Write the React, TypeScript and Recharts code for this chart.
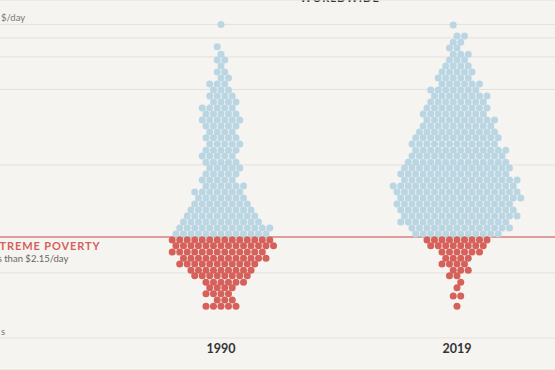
import React from "react";
import {
  CartesianGrid,
  ReferenceLine,
  Scatter,
  ScatterChart,
  XAxis,
  YAxis,
} from "recharts";

// income levels ($/day) of each row of dots, and how many dots sit on that row
const years = ["1990", "2019"];

const blue1990Levels = [
  2.29, 2.6, 2.96, 3.36, 3.82, 4.35, 4.94, 5.61, 6.38, 7.25, 8.24, 9.36, 10.6,
  12.1, 13.7, 15.6, 17.8, 20.2, 22.9, 26.1, 29.6, 33.7, 38.2, 43.5, 49.4, 56.1,
  63.8, 72.5, 82.4, 93.6, 106, 124, 200,
];
const blue1990Counts = [
  13, 13, 11, 10, 9, 8, 7, 7, 6, 5, 5, 5, 5, 5, 5, 5, 5, 4, 5, 6, 5, 5, 4, 4, 3,
  3, 2, 2, 1, 2, 1, 1, 1,
];
const red1990Levels = [
  2.02, 1.78, 1.56, 1.37, 1.21, 1.06, 0.94, 0.82, 0.73, 0.64, 0.56, 0.49,
];
const red1990Counts = [14, 14, 13, 12, 11, 9, 8, 6, 4, 4, 3, 5];

const blue2019Levels = [
  2.29, 2.6, 2.96, 3.36, 3.82, 4.35, 4.94, 5.61, 6.38, 7.25, 8.24, 9.36, 10.6,
  12.1, 13.7, 15.6, 17.8, 20.2, 22.9, 26.1, 29.6, 33.7, 38.2, 43.5, 49.4, 56.1,
  63.8, 72.5, 82.4, 93.6, 106, 121, 137, 156, 197,
];
const blue2019Counts = [
  12, 14, 15, 16, 16, 16, 17, 17, 17, 16, 15, 15, 14, 13, 13, 12, 12, 11, 10, 10,
  9, 9, 8, 8, 7, 6, 5, 5, 4, 3, 3, 2, 2, 2, 1,
];
const red2019Levels = [2.02, 1.78, 1.56, 1.37, 1.21, 1.06, 0.94, 0.82, 0.73, 0.61, 0.49];
const red2019Counts = [9, 8, 6, 4, 4, 3, 2, 1, 1, 2, 1];

const gridTicks = [0.25, 1, 10, 50, 100, 150, 200];
const gridLabels = ["s", "", "", "", "", "", "$/day"];
const povertyLine = 2.15;

const BG = "#f5f4f1";
const BLUE = "#bbd6e3";
const RED = "#d6605a";

// dot pitch in x-axis units
const PITCH = 0.0318;

type Dot = { x: number; y: number };

// lay rows out around the column centre, staggering neighbours like a hex grid
function swarm(levels: number[], counts: number[], column: number): Dot[] {
  const dots: Dot[] = [];
  let prevHalf: boolean | null = null;
  let flip = 1;
  levels.forEach((level, i) => {
    const n = counts[i];
    const half = n % 2 === 0;
    let shift = 0;
    if (prevHalf !== null && half === prevHalf) {
      shift = 0.5 * flip;
      flip = -flip;
    }
    prevHalf = shift ? !half : half;
    for (let k = 0; k < n; k++) {
      dots.push({ x: column + (k - (n - 1) / 2 + shift) * PITCH, y: level });
    }
  });
  return dots;
}

const blueDots = [
  ...swarm(blue1990Levels, blue1990Counts, 0),
  ...swarm(blue2019Levels, blue2019Counts, 1),
];
const redDots = [
  ...swarm(red1990Levels, red1990Counts, 0),
  ...swarm(red2019Levels, red2019Counts, 1),
];

const dotShape = (fill: string) => (props: any) =>
  <circle cx={props.cx} cy={props.cy} r={3.5} fill={fill} />;

const YearTick = (props: any) => {
  const { x, y, payload } = props;
  return (
    <text
      x={x}
      y={y}
      dy={-17}
      textAnchor="middle"
      fontSize={12.5}
      fontWeight={700}
      fill="#333"
      fontFamily="Lato"
    >
      {years[payload.value]}
    </text>
  );
};

const GridTick = (props: any) => {
  const { y, payload } = props;
  const label = gridLabels[gridTicks.indexOf(payload.value)] || "";
  return (
    <text x={1} y={y - 3} fontSize={9.5} fill="#777" fontFamily="Lato">
      {label}
    </text>
  );
};

const PovertyLabel = (props: any) => {
  const y = props.viewBox.y;
  return (
    <g fontFamily="Lato">
      <text x={-16} y={y + 13} fontSize={11} fontWeight={700} fill={RED} letterSpacing={0.9}>
        EXTREME POVERTY
      </text>
      <text x={-16} y={y + 25} fontSize={9.5} fill="#666">
        Less than $2.15/day
      </text>
    </g>
  );
};

export default function App() {
  return (
    <div
      style={{
        position: "fixed",
        left: 0,
        top: 0,
        width: 555,
        height: 370,
        background: BG,
        overflow: "hidden",
      }}
    >
      <div
        style={{
          position: "absolute",
          left: 300,
          top: -9,
          fontFamily: "Lato",
          fontWeight: 700,
          fontSize: 11,
          letterSpacing: 1,
          color: "#333",
        }}
      >
        WORLDWIDE
      </div>
      <ScatterChart
        width={555}
        height={370}
        margin={{ top: 0, right: 0, bottom: -1, left: -1 }}
        style={{ overflow: "visible" }}
      >
        <CartesianGrid vertical={false} stroke="#e3e1dd" />
        <XAxis
          type="number"
          dataKey="x"
          domain={[-0.9364, 1.4153]}
          ticks={[0, 1]}
          interval={0}
          allowDataOverflow
          height={1}
          axisLine={false}
          tickLine={false}
          tickSize={0}
          tickMargin={0}
          tick={<YearTick />}
        />
        <YAxis
          type="number"
          dataKey="y"
          scale="log"
          domain={[0.1262, 336.5]}
          ticks={gridTicks}
          interval={0}
          allowDataOverflow
          width={1}
          axisLine={false}
          tickLine={false}
          tickSize={0}
          tick={<GridTick />}
        />
        <ReferenceLine
          y={povertyLine}
          stroke="#d9827d"
          strokeWidth={1.5}
          label={<PovertyLabel />}
        />
        <Scatter data={blueDots} shape={dotShape(BLUE)} isAnimationActive={false} />
        <Scatter data={redDots} shape={dotShape(RED)} isAnimationActive={false} />
      </ScatterChart>
    </div>
  );
}
